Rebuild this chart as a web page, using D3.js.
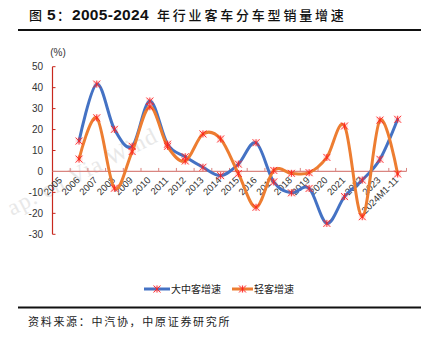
<!DOCTYPE html>
<html><head><meta charset="utf-8">
<script src="https://cdn.jsdelivr.net/npm/d3@7"></script>
<style>body{margin:0;background:#fff}svg{display:block}</style>
</head><body>
<svg id="c" width="431" height="337"></svg>
<script>
const categories = ["2005","2006","2007","2008","2009","2010","2011","2012","2013","2014","2015","2016","2017","2018","2019","2020","2021","2022","2023","2024M1-11"];
const seriesNames = ["大中客增速","轻客增速"];
const bigMid = [null,14.5,41.7,20.1,12,33.6,13,7,2,-2,3.5,13.7,-5,-10.2,-8.1,-24.8,-12,-4.1,5.8,24.9];
const light = [null,5.9,25.6,-8,9.5,30.9,12,5,17.9,15.5,-1,-17.1,0.5,-0.9,-0.6,6.7,21.7,-21.6,24.5,-1.2];
const yTicks = [50,40,30,20,10,0,-10,-20,-30];
const colors = ["#4472C4","#ED7D31"];

const svg = d3.select("#c");
const CJK = "'Noto Sans CJK SC', sans-serif";
const LAT = "'Liberation Sans', Arial, sans-serif";

// watermark
svg.append("text").attr("transform","translate(12,216) rotate(-27)")
  .attr("font-family","'Liberation Serif', serif").attr("letter-spacing",1.2)
  .attr("font-size",23).attr("fill","#e8e8e8").text("ap. cn Via Wind");

// title
const title = svg.append("text").attr("y",20).attr("fill","#111");
title.append("tspan").attr("x",29).attr("font-family",CJK).attr("font-size",13).attr("font-weight",500).text("图");
title.append("tspan").attr("x",47).attr("font-family",LAT).attr("font-size",15.5).attr("font-weight","bold").text("5");
title.append("tspan").attr("x",57).attr("font-family",CJK).attr("font-size",13).attr("font-weight",500).text("：");
title.append("tspan").attr("x",72).attr("font-family",LAT).attr("font-size",15.5).attr("font-weight","bold").attr("letter-spacing",0.3).text("2005-2024");
title.append("tspan").attr("x",157).attr("font-family",CJK).attr("font-size",13).attr("font-weight",500).attr("letter-spacing",2.8).text("年行业客车分车型销量增速");
svg.append("line").attr("x1",18).attr("x2",421).attr("y1",30).attr("y2",30).attr("stroke","#111").attr("stroke-width",2);

// footer
svg.append("line").attr("x1",18).attr("x2",421).attr("y1",307.5).attr("y2",307.5).attr("stroke","#111").attr("stroke-width",2);
svg.append("text").attr("x",28).attr("y",326).attr("font-family",CJK).attr("font-size",11).attr("letter-spacing",1.7).attr("fill","#222").text("资料来源：中汽协，中原证券研究所");

const x = d3.scaleBand().domain(categories).range([52.5,406.5]);
const y = d3.scaleLinear().domain([-30,50]).range([234.3,66.7]);
const cx = d => x(d) + x.bandwidth()/2;

const axisRed = "#c8281e";
// y axis
svg.append("line").attr("x1",52.5).attr("x2",52.5).attr("y1",y(50)).attr("y2",y(-30)).attr("stroke",axisRed).attr("stroke-width",1.2);
const yg = svg.append("g");
yTicks.forEach(t=>{
  yg.append("line").attr("x1",52.5).attr("x2",55.5).attr("y1",y(t)).attr("y2",y(t)).attr("stroke",axisRed);
  yg.append("text").attr("x",43).attr("y",y(t)).attr("dy","0.35em").attr("text-anchor","end")
    .attr("font-family",LAT).attr("font-size",10).attr("fill","#333").text(t);
});
svg.append("text").attr("x",58).attr("y",56).attr("text-anchor","middle").attr("font-family",LAT).attr("font-size",10).attr("fill","#333").text("(%)");

// zero line
svg.append("line").attr("x1",52.5).attr("x2",406.5).attr("y1",y(0)).attr("y2",y(0)).attr("stroke","#d98580").attr("stroke-width",1.2);
categories.forEach((c,i)=>{
  const bx = x(c)+x.bandwidth();
  svg.append("line").attr("x1",bx).attr("x2",bx).attr("y1",y(0)).attr("y2",y(0)-3.5).attr("stroke","#d98580");
  svg.append("text").attr("transform",`translate(${cx(c)-1},${y(0)+7}) rotate(-45)`)
    .attr("text-anchor","end").attr("dy","0.35em").attr("font-family",LAT).attr("font-size",9.5).attr("fill","#333").text(c);
});

// lines
const lineGen = d3.line().defined(d=>d.v!=null).x(d=>cx(d.c)).y(d=>y(d.v)).curve(d3.curveCardinal.tension(0));
const data = [bigMid, light].map(arr => categories.map((c,i)=>({c, v:arr[i]})));
data.forEach((s,k)=>{
  svg.append("path").attr("d",lineGen(s)).attr("fill","none").attr("stroke",colors[k]).attr("stroke-width",3).attr("stroke-linecap","round");
});
function marker(g, px, py){
  const r=3.5;
  g.append("path").attr("d",`M${px-r},${py-r}L${px+r},${py+r}M${px-r},${py+r}L${px+r},${py-r}M${px},${py-r}L${px},${py+r}`)
    .attr("stroke","#ff1a1a").attr("stroke-width",1).attr("stroke-opacity",0.85).attr("fill","none");
  g.append("rect").attr("x",px-r).attr("y",py-r).attr("width",2*r).attr("height",2*r).attr("fill","#ff4040").attr("fill-opacity",0.15);
}
const mg = svg.append("g");
data.forEach(s=>s.filter(d=>d.v!=null).forEach(d=>marker(mg,cx(d.c),y(d.v))));

// legend
const legend = [{x1:144,x2:170,tx:171},{x1:232,x2:253,tx:254}];
legend.forEach((l,k)=>{
  svg.append("line").attr("x1",l.x1).attr("x2",l.x2).attr("y1",289).attr("y2",289).attr("stroke",colors[k]).attr("stroke-width",3);
  marker(svg,(l.x1+l.x2)/2,289);
  svg.append("text").attr("x",l.tx).attr("y",289).attr("dy","0.36em").attr("font-family",CJK).attr("font-size",10).attr("fill","#222").text(seriesNames[k]);
});
</script>
</body></html>
